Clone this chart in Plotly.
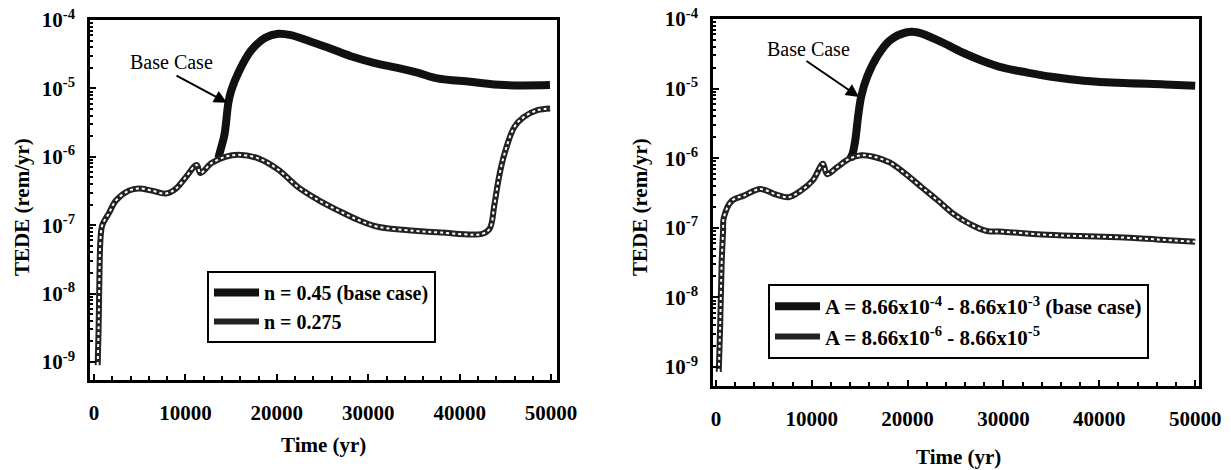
import plotly.graph_objects as go

W, H = 1231, 470
ML, MR, MT, MB = 10, 10, 10, 10  # page margins in px

# ---------------- data ----------------
# Left panel: porosity n
left_base_t = [13600, 13830, 14270, 14700, 15030, 15790, 17200, 18730, 20150, 21560, 23740,
               25920, 28100, 30710, 33210, 35390, 37570, 41160, 44870, 49880]
left_base_v = [9.5e-7, 1.25e-6, 2.1e-6, 6.2e-6, 9.5e-6, 1.7e-5, 3.6e-5, 5.5e-5, 6.3e-5, 6.0e-5, 4.8e-5,
               3.8e-5, 2.95e-5, 2.35e-5, 2.0e-5, 1.7e-5, 1.4e-5, 1.25e-5, 1.12e-5, 1.12e-5]

left_low_t = [400, 500, 600, 700, 900, 1630, 2400, 3810, 4900, 6320, 7840, 8930, 10020,
              11220, 11650, 12850, 14370, 15790, 17970, 20150, 22320, 24500, 26680, 28860,
              31040, 35070, 38000, 42500, 43300, 43800, 44300, 44900, 46000, 47000, 48500, 49900]
left_low_v = [9e-10, 3e-9, 2e-8, 6e-8, 1.0e-7, 1.5e-7, 2.3e-7, 3.2e-7, 3.45e-7, 3.2e-7,
              2.9e-7, 3.4e-7, 5.0e-7, 7.6e-7, 5.8e-7, 8.1e-7, 1.0e-6, 1.07e-6, 9.5e-7, 6.5e-7,
              3.6e-7, 2.35e-7, 1.65e-7, 1.2e-7, 9.5e-8, 8.3e-8, 7.8e-8, 7.5e-8, 9e-8, 2e-7,
              5e-7, 1.1e-6, 2.75e-6, 3.8e-6, 4.8e-6, 5.1e-6]

# Right panel: coefficient A
right_base_t = [14000, 14250, 14540, 14840, 15170, 15800, 16860, 18130, 19820, 21080, 23610,
                25720, 27830, 29950, 32480, 35010, 38380, 42600, 46820, 50000]
right_base_v = [9.8e-7, 1.15e-6, 1.8e-6, 4.0e-6, 7.8e-6, 1.5e-5, 2.95e-5, 4.9e-5, 6.4e-5, 6.4e-5, 4.6e-5,
                3.3e-5, 2.5e-5, 2.0e-5, 1.7e-5, 1.48e-5, 1.3e-5, 1.2e-5, 1.15e-5, 1.1e-5]

right_low_t = [300, 450, 600, 750, 826, 1670, 2936, 4624, 6310, 7580, 8850, 10110, 11170,
               11590, 12640, 13910, 15170, 16440, 18130, 19820, 21500, 23190, 24880, 26570,
               28260, 29950, 34000, 38000, 42000, 46000, 50000]
right_low_v = [8.5e-10, 4e-9, 3e-8, 9e-8, 1.4e-7, 2.45e-7, 2.9e-7, 3.6e-7, 3.0e-7, 2.75e-7,
               3.4e-7, 4.8e-7, 8.3e-7, 5.9e-7, 7.4e-7, 9.8e-7, 1.1e-6, 1.05e-6, 8.7e-7, 5.9e-7,
               3.8e-7, 2.45e-7, 1.55e-7, 1.12e-7, 9.0e-8, 8.8e-8, 8.0e-8, 7.6e-8, 7.3e-8, 6.8e-8,
               6.3e-8]

left_names = ["n = 0.45 (base case)", "n = 0.275"]
right_names = ["A = 8.66x10<sup>-4</sup> - 8.66x10<sup>-3</sup> (base case)",
               "A = 8.66x10<sup>-6</sup> - 8.66x10<sup>-5</sup>"]

x_ticks = [0, 10000, 20000, 30000, 40000, 50000]
x_ticklabels = ["0", "10000", "20000", "30000", "40000", "50000"]
x_minor_ticks = list(range(0, 50001, 2000))
y_ticks = [1e-9, 1e-8, 1e-7, 1e-6, 1e-5, 1e-4]
y_ticklabels = ["10<sup>-9</sup>", "10<sup>-8</sup>", "10<sup>-7</sup>",
                "10<sup>-6</sup>", "10<sup>-5</sup>", "10<sup>-4</sup>"]
y_minor_ticks = [m * d for d in y_ticks[:-1] for m in range(2, 10)]

# axis ranges (x linear, y as log10 exponents)
L_XR, L_YR = [-440, 50650], [-9.263, -4]
R_XR, R_YR = [-300, 50400], [-9.273, -4]

FONT = "Liberation Serif, Times New Roman, serif"

fig = go.Figure()


def add_pair(t_base, v_base, t_low, v_low, names, xa, ya, legend):
    fig.add_trace(go.Scatter(x=t_base, y=v_base, mode="lines", name=names[0],
                             line=dict(color="#111111", width=8), xaxis=xa, yaxis=ya,
                             legend=legend, line_shape="spline"))
    fig.add_trace(go.Scatter(x=t_low, y=v_low, mode="lines", name=names[1],
                             line=dict(color="#222222", width=6), xaxis=xa, yaxis=ya,
                             legend=legend, line_shape="spline"))
    # white dotted overlay gives the hatched look of the lower curve
    fig.add_trace(go.Scatter(x=t_low, y=v_low, mode="lines", showlegend=False,
                             line=dict(color="white", width=2, dash="dot"),
                             xaxis=xa, yaxis=ya, hoverinfo="skip", line_shape="spline"))


add_pair(left_base_t, left_base_v, left_low_t, left_low_v, left_names, "x", "y", "legend")
add_pair(right_base_t, right_base_v, right_low_t, right_low_v, right_names, "x2", "y2", "legend2")


def xaxis(domain, rng, anchor):
    return dict(domain=domain, range=rng, tickvals=x_ticks, ticktext=x_ticklabels, anchor=anchor,
                ticks="inside", ticklen=6, tickwidth=2, tickcolor="black", automargin=False,
                showline=True, linewidth=2.5, linecolor="black", mirror=True,
                showgrid=False, zeroline=False, ticklabelstandoff=12,
                minor=dict(ticks="inside", ticklen=4, tickwidth=1.5, tickvals=x_minor_ticks,
                           tickcolor="black", showgrid=False),
                tickfont=dict(family=FONT, size=21, color="black", weight="bold"))


def yaxis(domain, rng, anchor):
    return dict(domain=domain, type="log", range=rng, tickvals=y_ticks, ticktext=y_ticklabels,
                ticks="inside", ticklen=6, tickwidth=2, tickcolor="black", anchor=anchor,
                showline=True, linewidth=2.5, linecolor="black", mirror=True, automargin=False,
                showgrid=False, zeroline=False, ticklabelstandoff=8,
                minor=dict(ticks="inside", ticklen=3, tickwidth=1.5, tickvals=y_minor_ticks,
                           tickcolor="black", showgrid=False),
                tickfont=dict(family=FONT, size=21, color="black", weight="bold"))


def px_x(p):
    return (p - ML) / (W - ML - MR)


def px_y(p):
    return 1 - (p - MT) / (H - MT - MB)


leg_font = dict(family=FONT, size=20, color="black", weight="bold")
fig.update_layout(
    width=W, height=H, margin=dict(l=ML, r=MR, t=MT, b=MB),
    paper_bgcolor="white", plot_bgcolor="white",
    xaxis=xaxis([px_x(90), px_x(557)], L_XR, "y"),
    yaxis=yaxis([px_y(380), px_y(20)], L_YR, "x"),
    xaxis2=xaxis([px_x(713), px_x(1199)], R_XR, "y2"),
    yaxis2=yaxis([px_y(386), px_y(19)], R_YR, "x2"),
    legend=dict(x=px_x(207), y=px_y(271), xanchor="left", yanchor="top",
                bgcolor="white", bordercolor="black", borderwidth=2,
                font=leg_font, itemwidth=45, tracegroupgap=0),
    legend2=dict(x=px_x(768), y=px_y(284), xanchor="left", yanchor="top",
                 bgcolor="white", bordercolor="black", borderwidth=2,
                 font=dict(leg_font, size=21), itemwidth=45, tracegroupgap=0),
    showlegend=True,
)

title_font = dict(family=FONT, size=21, color="black", weight="bold")


def label(text, x, y, font, angle=0):
    return dict(text=text, x=px_x(x), y=px_y(y), xref="paper", yref="paper",
                xanchor="center", yanchor="middle", textangle=angle,
                showarrow=False, font=font)


lab_font = dict(family=FONT, size=20, color="black")
ann = [
    label("TEDE (rem/yr)", 22, 207, title_font, -90),
    label("TEDE (rem/yr)", 640, 207, title_font, -90),
    label("Time (yr)", 323, 445, title_font),
    label("Time (yr)", 958, 457, title_font),
    label("Base Case", 171, 62, lab_font),
    label("Base Case", 808, 49, lab_font),
]
# arrows pointing at the base-case curves
ann.append(dict(text="", x=14550, y=-5.21, xref="x", yref="y", ax=-52, ay=-28,
                showarrow=True, arrowhead=2, arrowsize=1.3, arrowwidth=2, arrowcolor="black"))
ann.append(dict(text="", x=14930, y=-5.12, xref="x2", yref="y2", ax=-54, ay=-37,
                showarrow=True, arrowhead=2, arrowsize=1.3, arrowwidth=2, arrowcolor="black"))
fig.update_layout(annotations=ann)

fig.write_html("out.html", config={"displayModeBar": False},
               post_script="document.body.style.margin='0';")
